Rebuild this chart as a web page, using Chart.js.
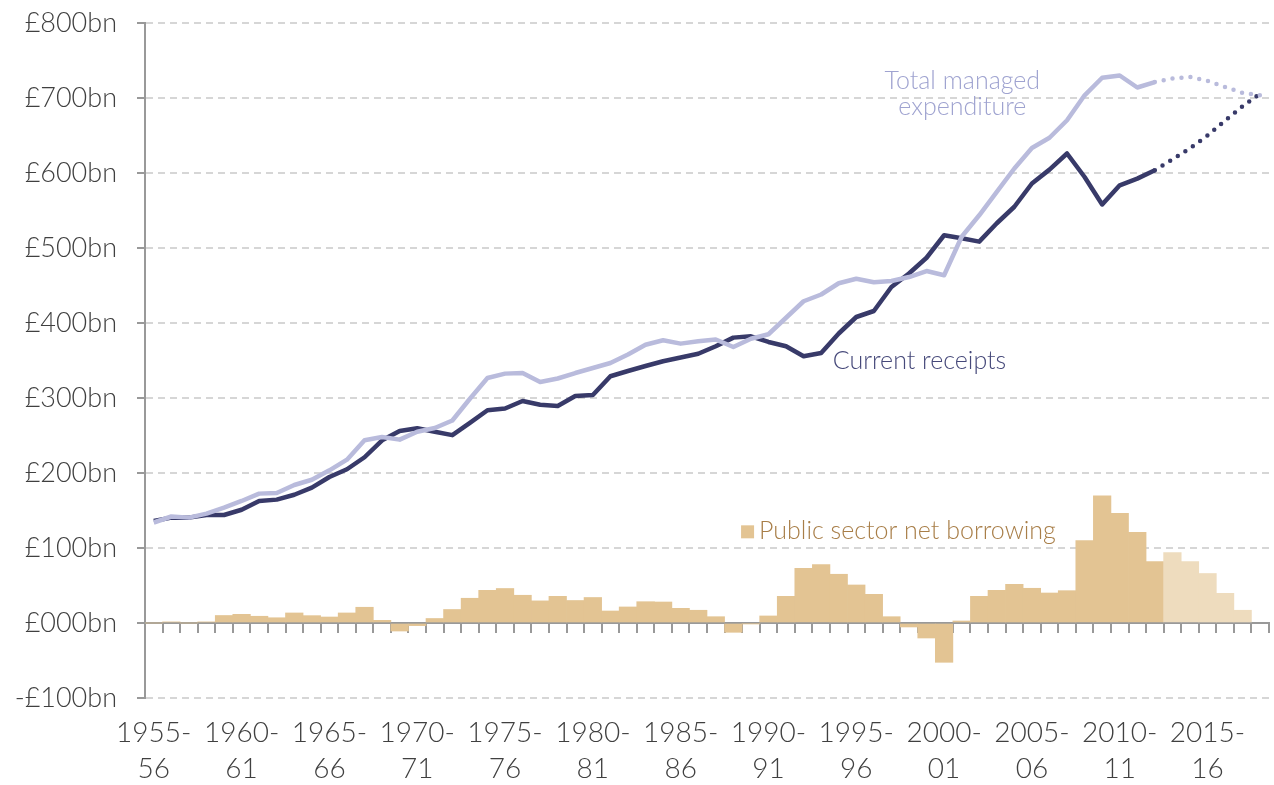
<!DOCTYPE html>
<html>
<head>
<meta charset="utf-8">
<script src="https://cdn.jsdelivr.net/npm/chart.js@4.4.1/dist/chart.umd.min.js"></script>
<style>
  html, body { margin: 0; padding: 0; background: #ffffff; }
  #wrap { width: 1274px; height: 785px; position: relative; }
</style>
</head>
<body>
<div id="wrap"><canvas id="c"></canvas></div>
<script>
const categories = ['1955-56','1956-57','1957-58','1958-59','1959-60','1960-61','1961-62','1962-63','1963-64','1964-65',
  '1965-66','1966-67','1967-68','1968-69','1969-70','1970-71','1971-72','1972-73','1973-74','1974-75',
  '1975-76','1976-77','1977-78','1978-79','1979-80','1980-81','1981-82','1982-83','1983-84','1984-85',
  '1985-86','1986-87','1987-88','1988-89','1989-90','1990-91','1991-92','1992-93','1993-94','1994-95',
  '1995-96','1996-97','1997-98','1998-99','1999-00','2000-01','2001-02','2002-03','2003-04','2004-05',
  '2005-06','2006-07','2007-08','2008-09','2009-10','2010-11','2011-12','2012-13','2013-14','2014-15',
  '2015-16','2016-17','2017-18','2018-19'];

const currentReceipts = [136,140.5,140.5,144,144,151,162.7,164.5,171,180.5,
  194.7,205,221,243.6,256,259.6,255,250.5,266.7,283.6,
  286,296,291,289.4,302.7,304,329,336,342.7,349,
  354,359,369,380.5,382.3,374.7,369,355.6,360,386,
  408,416,448,466,487,517,513,508.5,533,555,
  586,604.5,626,594.7,558,583.6,592.5,603.6,618,633,
  650,670,689,706];

const totalManagedExpenditure = [134,142,140.5,145.8,153.8,162.7,172.5,173.3,184,191,
  203.6,217.8,243.6,248,244.5,255,260,270,299,326.7,
  332.5,333.3,321.3,326,333.3,340,346.7,358,371,377,
  372.5,375.6,378,368,379,385,407,429,438,453,
  459,454.3,456,461.3,469.3,463.6,515,543.6,574.7,606,
  633.3,647,670.3,703.6,727,730,714,721.3,726,728,
  722.7,714.7,706.7,703.6];

const netBorrowing = [0,1.5,0,1.5,10,11.6,9,7,13.4,9.8,
  8,13.4,21,3.6,-10.7,-3.5,6,18,33,43.6,
  46,37,29.5,35.6,30,34,16,21.4,28.4,28,
  19.6,17,8.4,-12.4,-1,9.4,35.6,72.8,77.8,65,
  50.7,38.2,8.4,-5.3,-20,-52.4,2.7,35.6,43.6,51.6,
  46.3,40,43.1,110,169.4,146.3,121,81.8,93.8,82,
  66,39.6,17,null];

const firstForecast = '2013-14';
const xTickLabels = ['1955-56','1960-61','1965-66','1970-71','1975-76','1980-81','1985-86','1990-91','1995-96','2000-01','2005-06','2010-11','2015-16'];
const yTickValues = [-100,0,100,200,300,400,500,600,700,800];
const yTickLabels = ['-£100bn','£000bn','£100bn','£200bn','£300bn','£400bn','£500bn','£600bn','£700bn','£800bn'];

const seriesNames = ['Total managed expenditure','Current receipts','Public sector net borrowing'];

const forecastIdx = categories.indexOf(firstForecast);
const lastActualIdx = forecastIdx - 1;

const COL_DARK = '#383a69';
const COL_LIGHT = '#b9bbdc';
const COL_BAR = '#e3c493';
const COL_BAR_F = '#eedcbe';
const FONT = "Lato, 'Open Sans', sans-serif";

const annotations = [
  { lines: ['Total managed', 'expenditure'], x: 46.04, y: [712.5, 677.6], align: 'center', color: '#9fa3d0' },
  { lines: ['Current receipts'], x: 38.66, y: [339.2], align: 'left', color: '#46497a' }
];
const legendNote = { text: 'Public sector net borrowing', x: 33.44, y: 112.9, color: '#a87e48' };

const annotPlugin = {
  id: 'annot',
  afterDatasetsDraw(chart) {
    const ctx = chart.ctx, xs = chart.scales.x, ys = chart.scales.y;
    ctx.save();
    ctx.font = "300 25px " + FONT;
    ctx.textBaseline = 'alphabetic';
    annotations.forEach(a => {
      ctx.fillStyle = a.color;
      ctx.textAlign = a.align;
      a.lines.forEach((t, i) => ctx.fillText(t, xs.getPixelForValue(a.x), ys.getPixelForValue(a.y[i])));
    });
    const sx = xs.getPixelForValue(legendNote.x);
    const sy = ys.getPixelForValue(legendNote.y);
    ctx.fillStyle = COL_BAR;
    ctx.fillRect(sx, sy - 13, 13, 13);
    ctx.fillStyle = legendNote.color;
    ctx.textAlign = 'left';
    ctx.fillText(legendNote.text, sx + 18, sy + 1);
    ctx.restore();
  }
};

const dotted = (ctx, v) => ctx.p0DataIndex >= lastActualIdx ? v : undefined;

new Chart(document.getElementById('c'), {
  type: 'bar',
  data: {
    labels: categories,
    datasets: [
      {
        type: 'line', label: seriesNames[0], data: totalManagedExpenditure,
        borderColor: COL_LIGHT, borderWidth: 4.5, pointRadius: 0, tension: 0, order: 0,
        borderJoinStyle: 'round',
        segment: { borderDash: ctx => dotted(ctx, [0, 9]), borderCapStyle: ctx => dotted(ctx, 'round') || 'butt' }
      },
      {
        type: 'line', label: seriesNames[1], data: currentReceipts,
        borderColor: COL_DARK, borderWidth: 4.5, pointRadius: 0, tension: 0, order: 0,
        borderJoinStyle: 'round',
        segment: { borderDash: ctx => dotted(ctx, [0, 9]), borderCapStyle: ctx => dotted(ctx, 'round') || 'butt' }
      },
      {
        type: 'bar', label: seriesNames[2], data: netBorrowing, order: 1,
        backgroundColor: ctx => ctx.dataIndex >= forecastIdx ? COL_BAR_F : COL_BAR,
        borderWidth: 0, barPercentage: 1, categoryPercentage: 1
      }
    ]
  },
  options: {
    responsive: true, maintainAspectRatio: false, animation: false,
    layout: { padding: { left: 0, right: 5, top: 23, bottom: 0 } },
    plugins: { legend: { display: false }, tooltip: { enabled: false } },
    scales: {
      x: {
        type: 'category', position: 'bottom', offset: true,
        grid: { display: false, drawTicks: false },
        border: { display: false },
        ticks: {
          autoSkip: false, maxRotation: 0, minRotation: 0, padding: 16,
          color: '#404040', font: { family: FONT, size: 28, weight: '300', lineHeight: 1.32 },
          callback: (v, i) => xTickLabels.includes(categories[i]) ? [categories[i].slice(0, 5), categories[i].slice(5)] : null
        },
        afterFit: s => { s.height = 87; s.paddingLeft = 0; s.paddingRight = 0; }
      },
      x0: {
        type: 'category', position: { y: 0 }, offset: true,
        grid: { display: true, drawOnChartArea: false, drawTicks: true, tickLength: 9, offset: true,
                color: '#999999', tickColor: '#999999', tickWidth: 2, lineWidth: 2 },
        border: { display: true, color: '#999999', width: 2 },
        ticks: { display: false }
      },
      y: {
        type: 'linear', min: -100, max: 800,
        afterBuildTicks: s => { s.ticks = yTickValues.map(v => ({ value: v })); },
        grid: {
          color: c => (c.tick && c.tick.value === 0) ? 'rgba(0,0,0,0)' : '#d6d6d6',
          lineWidth: 2, tickLength: 8, tickColor: '#999999', tickWidth: 2,
          borderDash: [7, 5], tickBorderDash: []
        },
        border: { display: true, color: '#999999', width: 2, dash: [7, 5] },
        ticks: {
          padding: 20, color: '#404040', font: { family: FONT, size: 27, weight: '300' },
          callback: v => yTickLabels[yTickValues.indexOf(v)]
        },
        afterFit: s => { s.width = 145; s.paddingTop = 0; s.paddingBottom = 0; }
      }
    }
  },
  plugins: [annotPlugin]
});
</script>
</body>
</html>
